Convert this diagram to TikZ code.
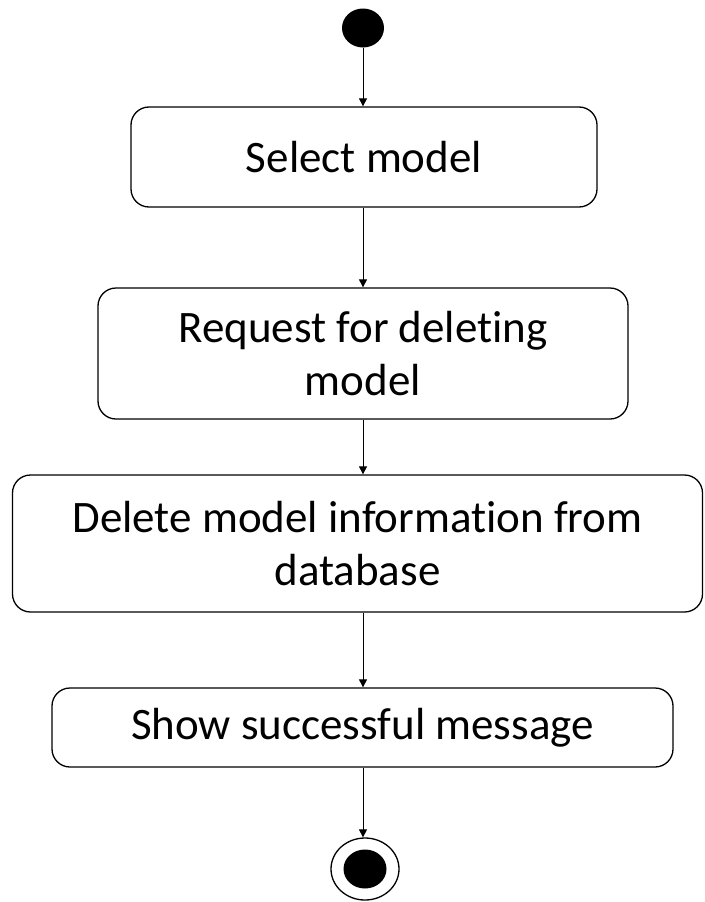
\documentclass[tikz,border=0pt]{standalone}
\usepackage{fontspec}
\setmainfont{Carlito}[Ligatures={NoCommon}]
\usetikzlibrary{arrows.meta,shapes.geometric}

\begin{document}
\begin{tikzpicture}[x=1pt,y=-1pt,
    act/.style={draw, line width=1.3pt, rounded corners=18pt, align=center,
        inner sep=0pt, font=\fontsize{45}{53}\selectfont},
    flow/.style={-{Triangle[length=8pt,width=8pt]}, line width=1pt}]
\useasboundingbox (0,0) rectangle (704,902);
% Start and end states
\node[ellipse, fill, minimum width=42pt, minimum height=39pt, inner sep=0pt] (start) at (363,28) {};
\node[ellipse, draw, line width=1.3pt, minimum width=68pt, minimum height=62pt, inner sep=0pt] (stop) at (365,869) {};
\node[ellipse, fill, minimum width=43pt, minimum height=39pt, inner sep=0pt] (stopdot) at (stop) {};
% Activities
\node[act, minimum width=466pt, minimum height=100pt] (select) at (364,157) {Select model};
\node[act, minimum width=530pt, minimum height=131pt] (request) at (363,353.5) {Request for deleting\\model};
\node[act, minimum width=690pt, minimum height=137pt] (delete) at (357.5,543.5) {Delete model information from\\database};
\node[act, minimum width=621pt, minimum height=79pt] (show) at (362.5,727.5) {Show successful message};
% Transitions
\draw[flow] (start) -- (start |- select.north);
\draw[flow] (start |- select.south) -- (start |- request.north);
\draw[flow] (start |- request.south) -- (start |- delete.north);
\draw[flow] (start |- delete.south) -- (start |- show.north);
\draw[flow] (start |- show.south) -- (start |- stop.north);
\end{tikzpicture}
\end{document}
